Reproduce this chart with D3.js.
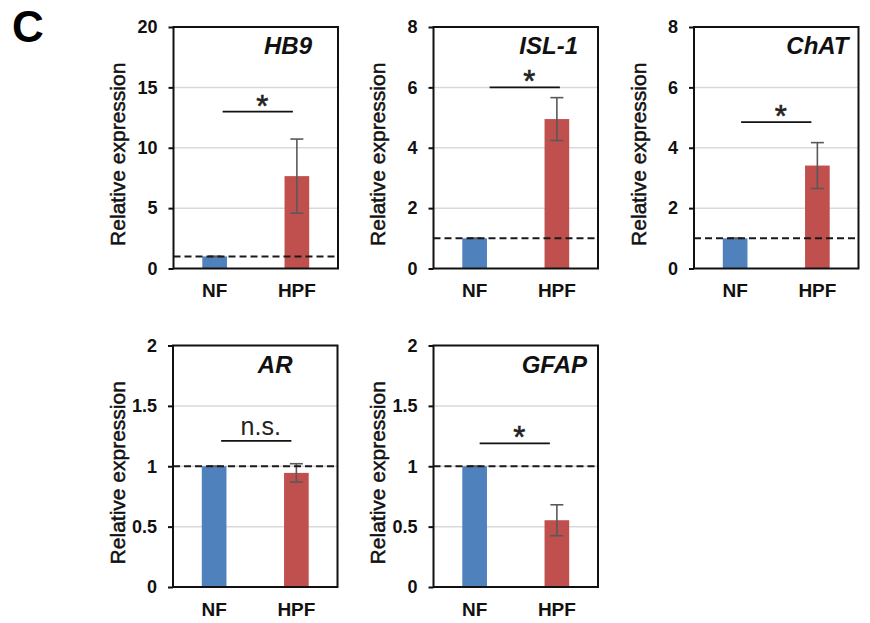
<!DOCTYPE html>
<html>
<head>
<meta charset="utf-8">
<script src="https://cdn.jsdelivr.net/npm/d3@7"></script>
<style>
  body { margin: 0; background: #fff; }
  text { font-family: "Liberation Sans", Arial, sans-serif; }
</style>
</head>
<body>
<script>
// values (relative expression, NF normalised to 1)
var genes = ["HB9", "ISL-1", "ChAT", "AR", "GFAP"];
var groups = ["NF", "HPF"];
var meanNF = [1, 1, 1, 1, 1];
var meanHPF = [7.65, 4.95, 3.41, 0.945, 0.553];
var semNF = [0, 0, 0, 0, 0];
var semHPF = [3.07, 0.71, 0.76, 0.076, 0.128];
var yMax = [20, 8, 8, 2, 2];
var yStep = [5, 2, 2, 0.5, 0.5];
var sigY = [13, 6, 4.85, 1.21, 1.19];
var sigLabel = ["*", "*", "*", "n.s.", "*"];
var refLevel = 1;

// layout for each panel (plot area, px)
var panelLeft = [173.5, 433.5, 694, 173, 433.5];
var panelTop = [27, 27, 27, 345.5, 345.5];
var pw = 164.5, ph = 241.5;
var titleInset = [26, 20, 10, 45, 11];
var sigShift = [2, 9, 0, 1, -1];

var colors = {NF: "#4f81bd", HPF: "#c0504d"};

var svg = d3.select("body").append("svg")
    .attr("width", 870)
    .attr("height", 623);

svg.append("text")
    .text("C")
    .attr("x", 12)
    .attr("y", 41.5)
    .style("font-size", "44px")
    .style("font-weight", "bold");

genes.forEach(function(gene, i){
    var g = svg.append("g")
        .attr("transform", "translate(" + panelLeft[i] + "," + panelTop[i] + ")");

    var x = d3.scaleBand().domain(groups).range([0, pw])
        .paddingInner(0.7).paddingOuter(0.35);
    var y = d3.scaleLinear().domain([0, yMax[i]]).range([ph, 0]);
    var ticks = d3.range(0, yMax[i] + yStep[i] / 2, yStep[i]);

    // gridlines
    g.selectAll(".grid")
        .data(ticks.filter(function(t){ return t > 0 && t < yMax[i]; }))
        .enter().append("line")
        .attr("x1", 0).attr("x2", pw)
        .attr("y1", function(d){ return y(d); })
        .attr("y2", function(d){ return y(d); })
        .style("stroke", "#d9d9d9")
        .style("stroke-width", "1.5px");

    var rows = [
        {grp: "NF", mean: meanNF[i], sem: semNF[i]},
        {grp: "HPF", mean: meanHPF[i], sem: semHPF[i]}
    ];

    g.selectAll(".bar")
        .data(rows)
        .enter().append("rect")
        .attr("x", function(d){ return x(d.grp); })
        .attr("y", function(d){ return y(d.mean); })
        .attr("width", x.bandwidth())
        .attr("height", function(d){ return ph - y(d.mean); })
        .style("fill", function(d){ return colors[d.grp]; });

    // error bars
    rows.forEach(function(d){
        var cx = x(d.grp) + x.bandwidth() / 2;
        var eb = g.append("g").style("stroke", "#595959").style("stroke-width", "1.6px");
        eb.append("line")
            .attr("x1", cx).attr("x2", cx)
            .attr("y1", y(d.mean + d.sem)).attr("y2", y(d.mean - d.sem));
        [d.mean + d.sem, d.mean - d.sem].forEach(function(v){
            eb.append("line")
                .attr("x1", cx - 6.5).attr("x2", cx + 6.5)
                .attr("y1", y(v)).attr("y2", y(v));
        });
    });

    // reference line at 1
    g.append("line")
        .attr("x1", 0).attr("x2", pw)
        .attr("y1", y(refLevel)).attr("y2", y(refLevel))
        .style("stroke", "#1a1a1a")
        .style("stroke-width", "2px")
        .style("stroke-dasharray", "7,4");

    // frame
    g.append("rect")
        .attr("width", pw).attr("height", ph)
        .style("fill", "none")
        .style("stroke", "#111")
        .style("stroke-width", "2px");

    var yAxis = g.append("g")
        .call(d3.axisLeft(y).tickValues(ticks).tickSize(5).tickPadding(11)
            .tickFormat(function(d){ return String(d); }));
    yAxis.select(".domain").remove();
    yAxis.selectAll("line").style("stroke", "#111").style("stroke-width", "2px");
    yAxis.selectAll("text")
        .attr("font-family", null)
        .style("font-size", "18px")
        .style("font-weight", "bold")
        .style("fill", "#111");

    g.selectAll(".xl")
        .data(groups)
        .enter().append("text")
        .text(function(d){ return d; })
        .attr("x", function(d){ return x(d) + x.bandwidth() / 2; })
        .attr("y", ph + 28.5)
        .attr("text-anchor", "middle")
        .style("font-size", "19px")
        .style("font-weight", "bold")
        .style("fill", "#111");

    g.append("text")
        .text("Relative expression")
        .attr("transform", "translate(-48.5," + (ph / 2 + 6.5) + ") rotate(-90)")
        .attr("text-anchor", "middle")
        .style("font-size", "21px")
        .style("fill", "#111")
        .style("stroke", "#111")
        .style("stroke-width", "0.5px");

    g.append("text")
        .text(gene)
        .attr("x", pw - titleInset[i])
        .attr("y", 27)
        .attr("text-anchor", "end")
        .style("font-size", "24px")
        .style("font-weight", "bold")
        .style("font-style", "italic")
        .style("fill", "#111");

    // significance bar
    var sx0 = x("NF") + x.bandwidth() / 2 + 6 + sigShift[i];
    var sx1 = x("HPF") + x.bandwidth() / 2 - 6 + sigShift[i];
    g.append("line")
        .attr("x1", sx0).attr("x2", sx1)
        .attr("y1", y(sigY[i])).attr("y2", y(sigY[i]))
        .style("stroke", "#111")
        .style("stroke-width", "1.8px");
    var star = sigLabel[i] == "*";
    g.append("text")
        .text(sigLabel[i])
        .attr("x", (sx0 + sx1) / 2 + 4.5)
        .attr("y", y(sigY[i]) + (star ? 5 : -6))
        .attr("text-anchor", "middle")
        .style("font-size", star ? "31px" : "25px")
        .style("fill", "#222")
        .style("stroke", star ? "#222" : "none")
        .style("stroke-width", "0.6px");
});
</script>
</body>
</html>
